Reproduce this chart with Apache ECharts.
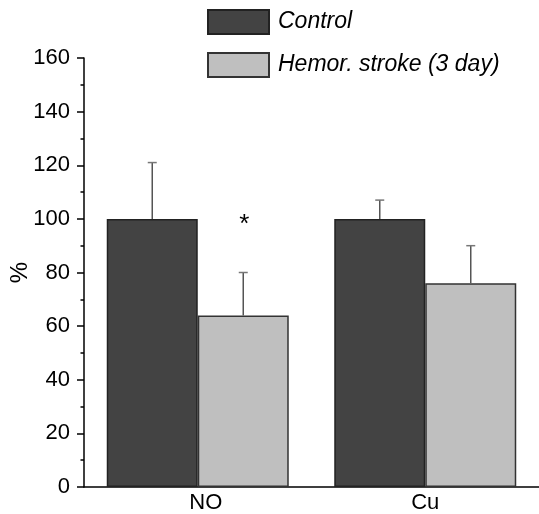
<!DOCTYPE html>
<html>
<head>
<meta charset="utf-8">
<script src="https://cdn.jsdelivr.net/npm/echarts@6/dist/echarts.min.js"></script>
<style>html,body{margin:0;padding:0;background:#fff}#c{width:539px;height:514px}</style>
</head>
<body>
<div id="c"></div>
<script>
var categories = ['NO', 'Cu'];
var seriesNames = ['Control', 'Hemor. stroke (3 day)'];
var controlValues = [100, 100];
var controlErrors = [21, 7];
var strokeValues = [64, 76];
var strokeErrors = [16, 14];
var strokeMarks = ['*', ''];
var yTicks = [0, 20, 40, 60, 80, 100, 120, 140, 160];

var FONT = '"Liberation Sans", Arial, sans-serif';
var chart = echarts.init(document.getElementById('c'), null, {renderer: 'canvas'});

function errorRender(values, errors, side, marks) {
  return function (params, api) {
    var i = api.value(0);
    var base = api.coord([i, api.value(1)]);
    var top = api.coord([i, api.value(1) + api.value(2)]);
    var bw = api.size([1, 0])[0] * 0.8 / 2;
    var x = base[0] + side * bw / 2;
    var ls = {stroke: '#555', lineWidth: 1.5};
    var children = [
      {type: 'line', shape: {x1: x, y1: base[1], x2: x, y2: top[1]}, style: ls},
      {type: 'line', shape: {x1: x - 4.5, y1: top[1], x2: x + 4.5, y2: top[1]}, style: {stroke: '#777', lineWidth: 1.5}}
    ];
    if (marks && marks[params.dataIndex]) {
      children.push({type: 'text', style: {text: marks[params.dataIndex], x: x + 1, y: top[1] - 48,
        align: 'center', verticalAlign: 'middle', fontSize: 26, fontFamily: FONT, fill: '#000'}});
    }
    return {type: 'group', children: children};
  };
}

chart.setOption({
  animation: false,
  backgroundColor: '#fff',
  textStyle: {fontFamily: FONT},
  grid: {left: 84, right: 0, top: 58, bottom: 27, containLabel: false, outerBoundsMode: 'none'},
  legend: {
    data: seriesNames,
    orient: 'vertical',
    left: 207, top: 9, padding: 0,
    itemWidth: 61, itemHeight: 24, itemGap: 17,
    icon: 'rect',
    textStyle: {fontSize: 23, fontStyle: 'italic', color: '#000', fontFamily: FONT, padding: [0, 0, 0, 4]}
  },
  xAxis: {
    type: 'category',
    data: categories,
    axisLine: {lineStyle: {color: '#000', width: 1.5}},
    axisTick: {show: false},
    axisLabel: {
      fontSize: 22, color: '#000', margin: 5, fontFamily: FONT,
      formatter: function (v) { return v === 'NO' ? '{a|' + v + '}' : v; },
      rich: {a: {fontSize: 22, color: '#000', fontFamily: FONT, padding: [0, 0, 0, 16]}}
    }
  },
  yAxis: {
    type: 'value',
    min: yTicks[0], max: yTicks[yTicks.length - 1], interval: 20,
    name: '%', nameLocation: 'middle', nameGap: 52, nameMoveOverlap: false,
    nameTextStyle: {fontSize: 24, color: '#000', fontFamily: FONT},
    axisLine: {show: true, lineStyle: {color: '#000', width: 1.5}},
    axisTick: {show: true, length: 7, lineStyle: {color: '#000', width: 1.5}},
    minorTick: {show: true, splitNumber: 2, length: 3.5, lineStyle: {color: '#000', width: 1.5}},
    splitLine: {show: false},
    axisLabel: {fontSize: 22, color: '#000', margin: 14, fontFamily: FONT}
  },
  series: [
    {name: seriesNames[0], type: 'bar', data: controlValues, barGap: '0%', barCategoryGap: '20%',
     itemStyle: {color: '#434343', borderColor: '#222', borderWidth: 1.5}},
    {name: seriesNames[1], type: 'bar', data: strokeValues, barGap: '0%', barCategoryGap: '20%',
     itemStyle: {color: '#bfbfbf', borderColor: '#333', borderWidth: 1.5}},
    {name: 'err1', type: 'custom', z: 5,
     data: controlValues.map(function (v, i) { return [i, v, controlErrors[i]]; }),
     renderItem: errorRender(controlValues, controlErrors, -1, null)},
    {name: 'err2', type: 'custom', z: 5,
     data: strokeValues.map(function (v, i) { return [i, v, strokeErrors[i]]; }),
     renderItem: errorRender(strokeValues, strokeErrors, 1, strokeMarks)}
  ]
});
</script>
</body>
</html>
